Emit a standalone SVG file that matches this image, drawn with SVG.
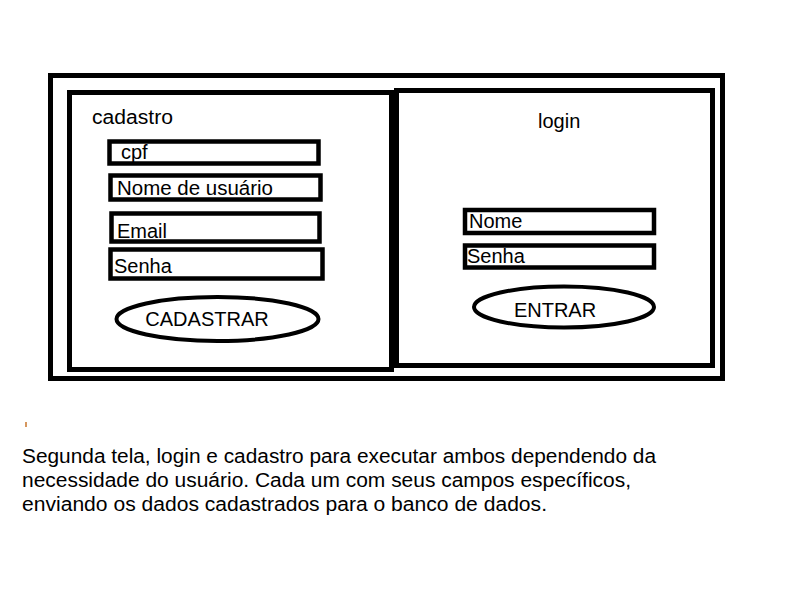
<svg xmlns="http://www.w3.org/2000/svg" width="809" height="589" viewBox="0 0 809 589">
<style>
.frame{fill:none;stroke:#000;stroke-width:5}
.field{fill:#fff;stroke:#000;stroke-width:4.5}
.btn{fill:#fff;stroke:#000;stroke-width:4}
text{font-family:"Liberation Sans",Arial,sans-serif;font-size:20px;fill:#000}
</style>
<rect width="809" height="589" fill="#fff"/>
<g id="outer-frame"><rect class="frame" x="50.5" y="75.5" width="672" height="303"/></g>
<g id="cadastro-panel">
<rect class="frame" x="69.5" y="92.5" width="322" height="277"/>
<text x="92" y="124" textLength="81" lengthAdjust="spacingAndGlyphs">cadastro</text>
</g>
<g id="field-cpf"><rect class="field" x="109.5" y="141.5" width="209" height="22"/><text x="121" y="159">cpf</text></g>
<g id="field-nome-usuario"><rect class="field" x="110.5" y="175.5" width="210" height="24"/><text x="117" y="195" textLength="156" lengthAdjust="spacingAndGlyphs">Nome de usuário</text></g>
<g id="field-email"><rect class="field" x="111.5" y="213.5" width="208" height="28"/><text x="117" y="238">Email</text></g>
<g id="field-senha-cadastro"><rect class="field" x="110.5" y="249.5" width="212" height="29"/><text x="114" y="273">Senha</text></g>
<g id="btn-cadastrar"><ellipse class="btn" cx="217.5" cy="319" rx="101" ry="22"/><text x="207" y="326" text-anchor="middle">CADASTRAR</text></g>
<g id="login-panel">
<rect class="frame" x="396.5" y="90.5" width="316" height="275"/>
<text x="538" y="128">login</text>
</g>
<g id="field-nome-login"><rect class="field" x="465" y="210" width="189" height="23"/><text x="469" y="228">Nome</text></g>
<g id="field-senha-login"><rect class="field" x="465" y="245.5" width="189" height="22"/><text x="467" y="263">Senha</text></g>
<g id="btn-entrar"><ellipse class="btn" cx="564" cy="307" rx="90" ry="20.5"/><text x="555" y="317" text-anchor="middle">ENTRAR</text></g>
<g id="connectors"></g>
<line x1="26" y1="422" x2="26" y2="427" stroke="#c8742a" stroke-width="1.5"/>
<g id="description">
<text x="22" y="463" textLength="634" lengthAdjust="spacingAndGlyphs">Segunda tela, login e cadastro para executar ambos dependendo da</text>
<text x="22" y="487" textLength="609" lengthAdjust="spacingAndGlyphs">necessidade do usuário. Cada um com seus campos específicos,</text>
<text x="22" y="511" textLength="525" lengthAdjust="spacingAndGlyphs">enviando os dados cadastrados para o banco de dados.</text>
</g>
</svg>
